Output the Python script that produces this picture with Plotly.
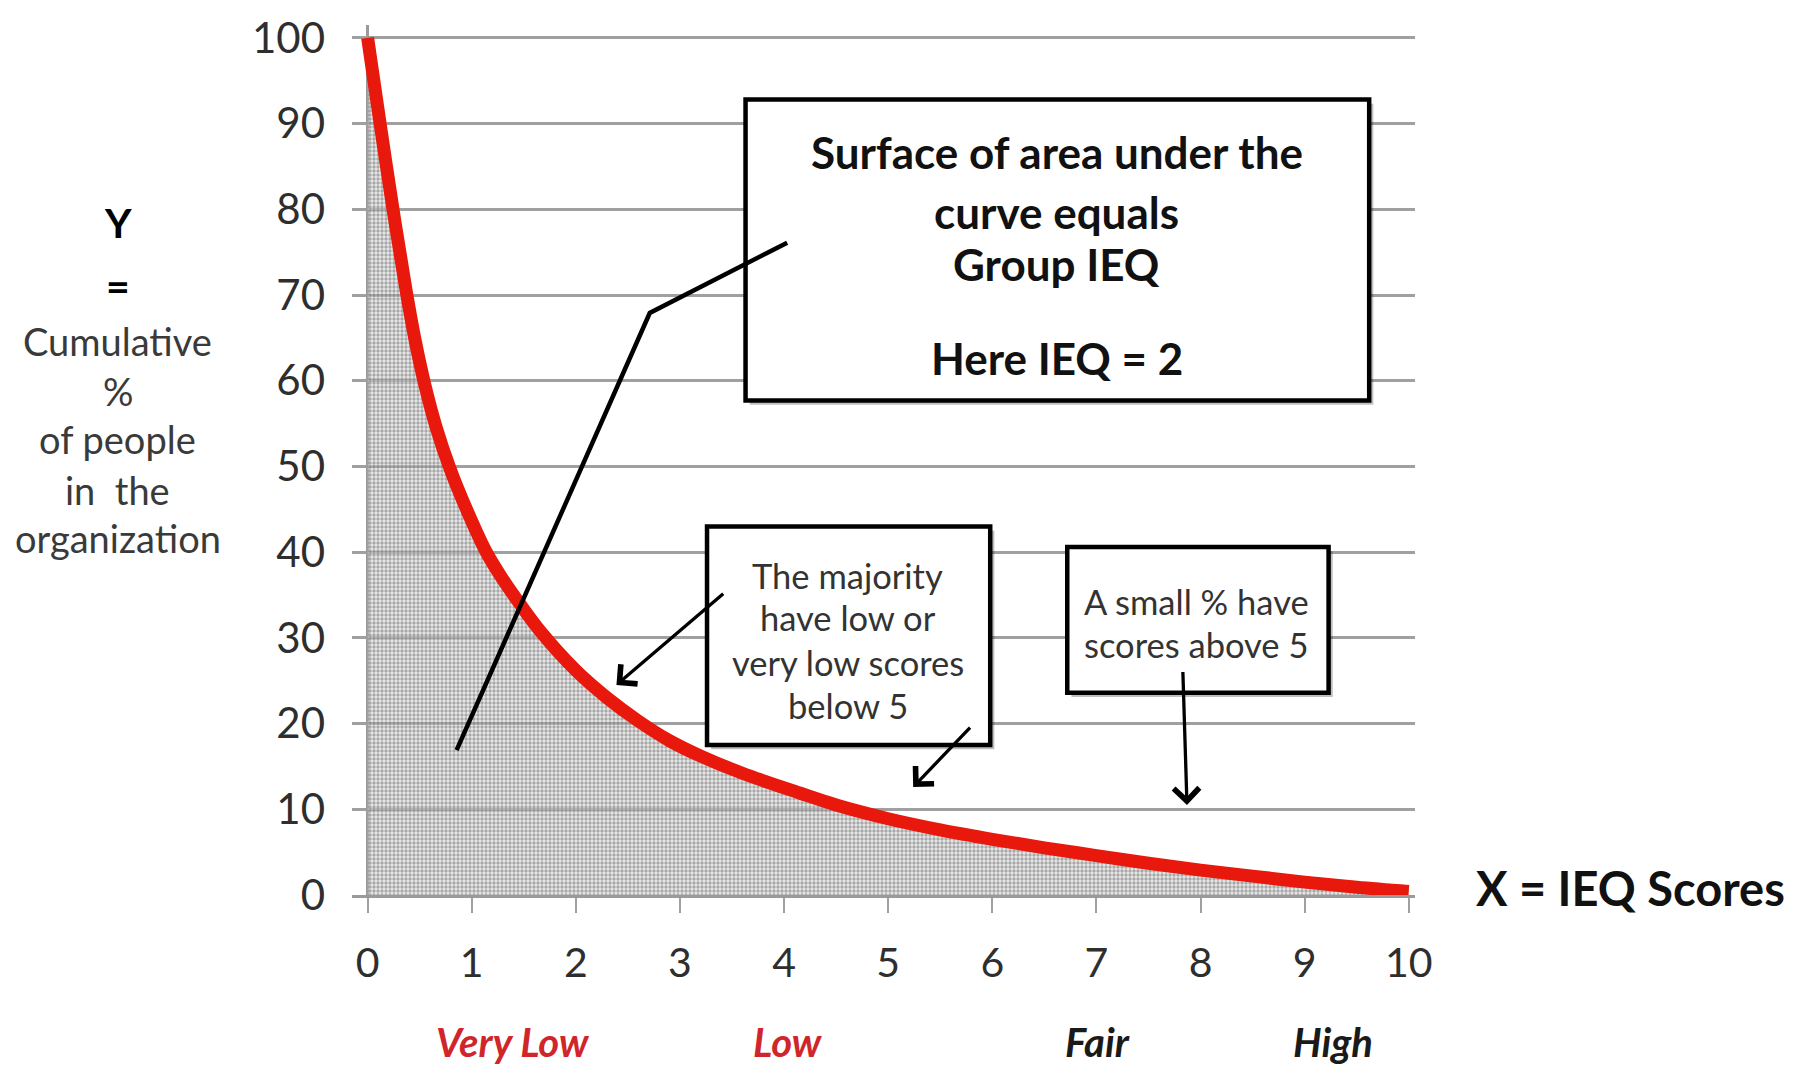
import plotly.graph_objects as go

# ---------------- data ----------------
score = [0, 0.12, 0.25, 0.37, 0.46, 0.55, 0.66, 0.79, 0.95, 1.14, 1.30, 1.46, 1.67, 2.0, 2.3, 2.6,
         2.9, 3.2, 3.6, 4.15, 4.5, 5.0, 5.5, 6.0, 6.5, 7.0, 7.5, 8.0, 8.5, 9.0, 9.5, 10.0]
cum_pct = [100, 90, 79.5, 70.5, 64.5, 59.5, 54.5, 49.8, 45, 40, 36.8, 34.0, 30.6, 26.2, 23.0, 20.3,
           18.0, 16.2, 14.2, 11.9, 10.5, 8.9, 7.6, 6.5, 5.5, 4.6, 3.7, 2.9, 2.2, 1.5, 0.9, 0.4]

x_ticks = list(range(0, 11))
y_ticks = list(range(0, 101, 10))

y_title_lines = ["Y", "=", "Cumulative", "%", "of people", "in  the", "organization"]
band_labels = ["Very Low", "Low", "Fair", "High"]
band_centers = [1.40, 4.04, 7.01, 9.27]
x_title = "X = IEQ Scores"

box1_lines = ["Surface of area under the", "curve equals", "Group IEQ", "Here IEQ = 2"]
box2_lines = ["The majority", "have low or", "very low scores", "below 5"]
box3_lines = ["A small % have", "scores above 5"]

# ---------------- layout constants ----------------
FONT = "Lato"
TXT = "#2e2e2e"
RED = "#e8180c"
GRID = "#a0a0a0"
XR = [-0.15, 10.06]
YR = [0, 101.5]


def px(x):
    return (x - XR[0]) / (XR[1] - XR[0])


def py(y):
    return (y - YR[0]) / (YR[1] - YR[0])


fig = go.Figure()

fig.add_trace(go.Scatter(
    x=score, y=cum_pct, mode="lines",
    line=dict(color=RED, width=13, shape="spline", smoothing=1.0),
    fill="tozeroy",
    fillcolor="rgba(210,210,210,0.55)",
    fillpattern=dict(shape=".", fgcolor="#666666", bgcolor="rgba(212,212,212,0.5)",
                     size=4, solidity=0.55),
    hoverinfo="skip", showlegend=False,
))

shapes = []
# boxes: (x0, x1, y0, y1)
boxes = [(3.63, 9.62, 57.7, 92.8), (3.26, 5.98, 17.5, 43.0), (6.72, 9.23, 23.6, 40.6)]
for (x0, x1, y0, y1) in boxes:
    shapes.append(dict(type="rect", xref="x", yref="y", x0=x0 + 0.04, x1=x1 + 0.04,
                       y0=y0 - 0.5, y1=y1 - 0.5, layer="above",
                       fillcolor="rgba(0,0,0,0.25)", line=dict(width=0)))
    shapes.append(dict(type="rect", xref="x", yref="y", x0=x0, x1=x1, y0=y0, y1=y1,
                       layer="above", fillcolor="white", line=dict(color="black", width=4.5)))
# pointer from the big box into the area
shapes.append(dict(type="path", xref="x", yref="y", layer="above",
                   path="M 4.03,76.1 L 2.71,67.9 L 0.855,16.9",
                   line=dict(color="black", width=4.5)))

ann = []
# y-axis title lines (paper coords: outside the plot area)
y_title_pos = [78.4, 71.1, 64.6, 58.8, 53.2, 47.3, 41.6]
for i, (t, yy) in enumerate(zip(y_title_lines, y_title_pos)):
    bold = i < 2
    ann.append(dict(x=px(-2.40), y=py(yy), xref="paper", yref="paper",
                    text=f"<b>{t}</b>" if bold else t,
                    showarrow=False, xanchor="center", yanchor="middle",
                    font=dict(family=FONT, size=41 if bold else 38,
                              color="black" if bold else "#3a3a3a")))
# band labels under axis
band_colors = ["#d0262b", "#d0262b", "#1a1a1a", "#1a1a1a"]
for t, xx, c in zip(band_labels, band_centers, band_colors):
    ann.append(dict(x=px(xx), y=py(-17.1), xref="paper", yref="paper", text=f"<b><i>{t}</i></b>",
                    showarrow=False, xanchor="center", yanchor="middle",
                    font=dict(family=FONT, size=40, color=c)))
# x-axis title
ann.append(dict(x=px(10.63), y=py(0.8), xref="paper", yref="paper", text=f"<b>{x_title}</b>",
                showarrow=False, xanchor="left", yanchor="middle",
                font=dict(family=FONT, size=47, color="#111111")))
# box texts
for t, yy in zip(box1_lines, [86.7, 79.7, 73.6, 62.7]):
    ann.append(dict(x=6.62, y=yy, xref="x", yref="y", text=f"<b>{t}</b>", showarrow=False,
                    xanchor="center", yanchor="middle", font=dict(family=FONT, size=44, color="#111111")))
for t, yy in zip(box2_lines, [37.3, 32.4, 27.1, 22.1]):
    ann.append(dict(x=4.61, y=yy, xref="x", yref="y", text=t, showarrow=False,
                    xanchor="center", yanchor="middle", font=dict(family=FONT, size=34.5, color="#333333")))
for t, yy in zip(box3_lines, [34.3, 29.2]):
    ann.append(dict(x=7.96, y=yy, xref="x", yref="y", text=t, showarrow=False,
                    xanchor="center", yanchor="middle", font=dict(family=FONT, size=34.5, color="#333333")))
# arrows (tail -> head)
arrows = [((3.43, 35.3), (2.39, 24.5)), ((5.80, 19.7), (5.24, 12.6)), ((7.83, 26.2), (7.87, 10.5))]
for (tx, ty), (hx, hy) in arrows:
    ann.append(dict(x=hx, y=hy, ax=tx, ay=ty, xref="x", yref="y", axref="x", ayref="y",
                    text="", showarrow=True, arrowhead=4, arrowsize=1.5, arrowwidth=3.3,
                    arrowcolor="black", standoff=0, startstandoff=0))

fig.update_layout(
    width=1793, height=1067,
    margin=dict(l=352, r=378, t=19, b=172),
    paper_bgcolor="white", plot_bgcolor="white",
    shapes=shapes, annotations=ann, showlegend=False,
    xaxis=dict(range=XR, tickvals=x_ticks, ticktext=[str(v) for v in x_ticks],
               ticks="outside", ticklen=15, tickwidth=2, tickcolor="#a0a0a0",
               showgrid=False, zeroline=True, zerolinecolor="#9a9a9a", zerolinewidth=3,
               showline=True, linecolor="#9a9a9a", linewidth=3,
               ticklabelstandoff=15,
               tickfont=dict(family=FONT, size=41, color=TXT)),
    yaxis=dict(range=YR, tickvals=y_ticks, ticktext=[str(v) for v in y_ticks],
               ticks="", showgrid=True, gridcolor=GRID, gridwidth=2.5, zeroline=False,
               showline=False, ticklabelstandoff=26,
               tickfont=dict(family=FONT, size=42, color=TXT)),
)

fig.write_html("out.html", config={"displayModeBar": False},
               post_script="document.body.style.margin='0';document.body.style.overflow='hidden';")
